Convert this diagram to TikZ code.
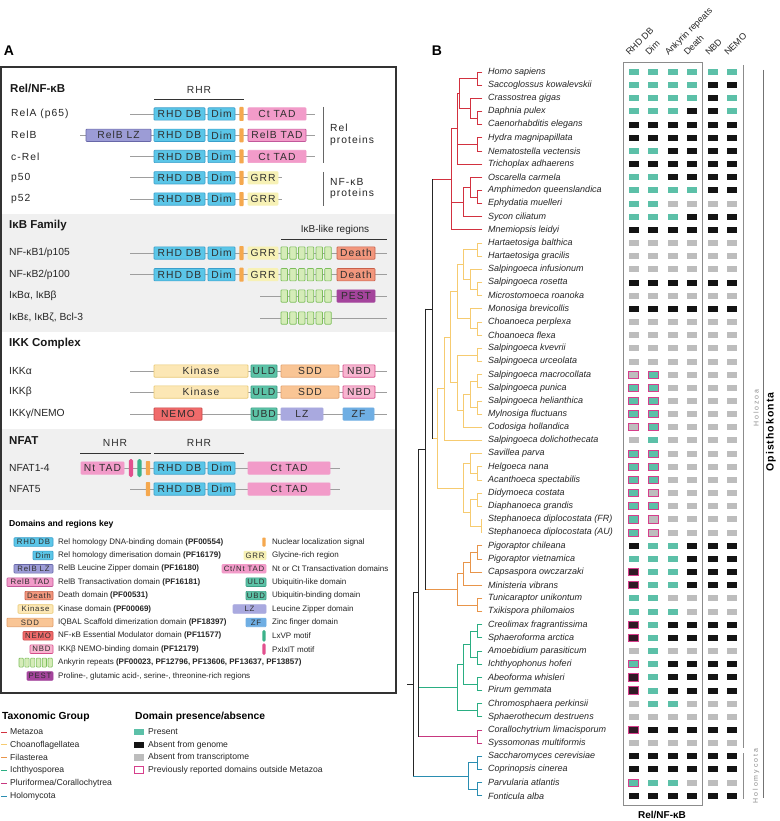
\documentclass[tikz,border=0pt]{standalone}
\usepackage{fontspec}
\setmainfont{Liberation Sans}
\newfontfamily\lsfont[LetterSpace=10]{Liberation Sans}
\newfontfamily\lswide[LetterSpace=28]{Liberation Sans}
\definecolor{rhdF}{HTML}{5BC6E8}\definecolor{rhdD}{HTML}{3A9FCB}
\definecolor{nlsF}{HTML}{F5A84E}
\definecolor{tadF}{HTML}{F29BC9}\definecolor{tadD}{HTML}{C2579A}
\definecolor{lzbF}{HTML}{9C9CD6}\definecolor{lzbD}{HTML}{6767A8}
\definecolor{grrF}{HTML}{F7F1B5}
\definecolor{ankF}{HTML}{D5ECB8}\definecolor{ankD}{HTML}{7DBE5C}
\definecolor{deaF}{HTML}{F2977D}\definecolor{deaD}{HTML}{C9604A}
\definecolor{pestF}{HTML}{A4449C}
\definecolor{kinF}{HTML}{FCE7B5}\definecolor{kinD}{HTML}{EAC872}
\definecolor{uldF}{HTML}{5CC3A7}\definecolor{uldD}{HTML}{3B9F85}
\definecolor{sddF}{HTML}{F9C595}\definecolor{sddD}{HTML}{E3A06B}
\definecolor{nbdF}{HTML}{F8B5D0}\definecolor{nbdD}{HTML}{D64C8A}
\definecolor{nemF}{HTML}{F06B6B}\definecolor{nemD}{HTML}{C94646}
\definecolor{lzF}{HTML}{A9A9DF}
\definecolor{zfF}{HTML}{6FAEE3}
\definecolor{lxvpF}{HTML}{3CB28A}
\definecolor{pxiF}{HTML}{E2508E}
\definecolor{presC}{HTML}{5CC0A8}
\definecolor{absB}{HTML}{141414}
\definecolor{absG}{HTML}{BDBDBD}
\definecolor{pinkO}{HTML}{D63F8C}
\definecolor{mzC}{HTML}{D2313F}
\definecolor{chC}{HTML}{F6CB70}
\definecolor{flC}{HTML}{E8954A}
\definecolor{icC}{HTML}{2AAE82}
\definecolor{pfC}{HTML}{C7377F}
\definecolor{hmC}{HTML}{2A8DB1}
\definecolor{bandG}{HTML}{F0F0F0}
\newcommand\pdom[5]{\draw[#4] (#1,#3-6.2) rectangle (#2,#3+6.2); \node[dt] at ({(#1+#2)/2},#3) {#5};}
\newcommand\pnls[2]{\fill[nlsF, rounded corners=0.8pt] (#1-2.2,#2-7) rectangle (#1+2.2,#2+7);}
\newcommand\pmot[3]{\fill[#3, rounded corners=1.8pt] (#1-2.2,#2-9) rectangle (#1+2.2,#2+9);}
\newcommand\pank[2]{\foreach \k in {0,...,5}{\draw[sANK] ({#1+\k*8.75},#2-6.2) rectangle ({#1+\k*8.75+6.5},#2+6.2);}}
\newcommand\pbb[3]{\draw[bb] (#1,#3) -- (#2,#3);}
\newcommand\kdom[5]{\draw[#4] (#1,#3-4.3) rectangle (#2,#3+4.3); \node[kt] at ({(#1+#2)/2},#3) {#5};}
\newcommand\cherry[4]{\draw[#4] (482,{72+(#2-1)*13.16}) -| (#1,{72+(#3-1)*13.16}) -- (482,{72+(#3-1)*13.16});}
\newcommand\mxP[2]{\fill[presC] (#1-5,#2-3) rectangle (#1+5,#2+3);}
\newcommand\mxB[2]{\fill[absB] (#1-5,#2-3) rectangle (#1+5,#2+3);}
\newcommand\mxG[2]{\fill[absG] (#1-5,#2-3) rectangle (#1+5,#2+3);}
\newcommand\mxp[2]{\draw[pinkO, line width=0.9pt, fill=presC] (#1-5,#2-3.6) rectangle (#1+5,#2+3.6);}
\newcommand\mxb[2]{\draw[pinkO, line width=0.9pt, fill=absB!85!pinkO] (#1-5,#2-3.6) rectangle (#1+5,#2+3.6);}
\newcommand\mxg[2]{\draw[pinkO, line width=0.9pt, fill=absG] (#1-5,#2-3.6) rectangle (#1+5,#2+3.6);}
\newcommand\mrow[7]{\pgfmathsetmacro\ry{72+(#1-1)*13.16}%
 \csname mx#2\endcsname{633.8}{\ry}\csname mx#3\endcsname{653.3}{\ry}%
 \csname mx#4\endcsname{672.7}{\ry}\csname mx#5\endcsname{691.7}{\ry}%
 \csname mx#6\endcsname{713.3}{\ry}\csname mx#7\endcsname{732.3}{\ry}}
\begin{document}
\begin{tikzpicture}[x=1pt,y=-1pt,
 bb/.style={draw=black!38, line width=0.8pt},
 dt/.style={font=\lsfont\fontsize{10.3}{12}\selectfont, text=black!82, inner sep=0},
 kt/.style={font=\lsfont\fontsize{7.8}{9}\selectfont, text=black!82, inner sep=0},
 kl/.style={anchor=west, font=\fontsize{8}{9}\selectfont, text=black!85, inner sep=0},
 lab/.style={anchor=west, font=\fontsize{10.3}{12}\selectfont, text=black!85, inner sep=0},
 labs/.style={anchor=west, font=\lsfont\fontsize{10.3}{12}\selectfont, text=black!85, inner sep=0},
 ttl/.style={anchor=west, font=\bfseries\fontsize{11.5}{13}\selectfont, text=black!90, inner sep=0},
 sRHD/.style={fill=rhdF, draw=rhdD, line width=0.6pt, rounded corners=0.8pt},
 sTAD/.style={fill=tadF, draw=tadF, line width=0.6pt, rounded corners=0.8pt},
 sRTAD/.style={fill=tadF, draw=tadD, line width=0.6pt, rounded corners=0.8pt},
 sLZB/.style={fill=lzbF, draw=lzbD, line width=0.6pt, rounded corners=0.8pt},
 sGRR/.style={fill=grrF, draw=grrF, line width=0.6pt, rounded corners=0.8pt},
 sANK/.style={fill=ankF, draw=ankD, line width=0.6pt, rounded corners=0.8pt},
 sDEA/.style={fill=deaF, draw=deaD, line width=0.6pt, rounded corners=0.8pt},
 sPEST/.style={fill=pestF, draw=pestF, line width=0.6pt, rounded corners=0.8pt},
 sKIN/.style={fill=kinF, draw=kinD, line width=0.6pt, rounded corners=0.8pt},
 sULD/.style={fill=uldF, draw=uldD, line width=0.6pt, rounded corners=0.8pt},
 sSDD/.style={fill=sddF, draw=sddD, line width=0.6pt, rounded corners=0.8pt},
 sNBD/.style={fill=nbdF, draw=nbdD, line width=0.6pt, rounded corners=0.8pt},
 sNEM/.style={fill=nemF, draw=nemD, line width=0.6pt, rounded corners=0.8pt},
 sLZ/.style={fill=lzF, draw=lzF, line width=0.6pt, rounded corners=0.8pt},
 sZF/.style={fill=zfF, draw=zfF, line width=0.6pt, rounded corners=0.8pt},
 tr/.style={line width=0.85pt, line cap=rect},
 spn/.style={anchor=west, font=\itshape\fontsize{9}{10}\selectfont, text=black!85, inner sep=0},
 colh/.style={anchor=base west, rotate=45, font=\fontsize{9}{10}\selectfont, text=black!85, inner sep=0},
 brk/.style={draw=black!45, line width=0.8pt}
]
\useasboundingbox (0,0) rectangle (779,821);
\fill[white] (0,0) rectangle (779,821);
% ---------------- Panel A ----------------
\node[font=\bfseries\fontsize{14}{14}\selectfont, inner sep=0] (lA) at (9,51) {A};
\fill[bandG] (1,214) rectangle (396,332);
\fill[bandG] (1,429) rectangle (396,510);
\draw[black!80, line width=1.1pt] (1,67) rectangle (396,693);
% Rel/NF-kB
\node[ttl] (t1) at (10,88) {Rel/NF-κB};
\node[dt] (rhr1) at (199,90) {RHR};
\draw[black!80, line width=0.7pt] (154,99) -- (244,99);
\node[labs] at (11,114) {RelA (p65)};
\node[labs] at (11,135.3) {RelB};
\node[labs] at (11,156.5) {c-Rel};
\node[labs] at (11,177.8) {p50};
\node[labs] at (11,199) {p52};
\foreach \yy in {114,156.5}{\pbb{130}{315}{\yy}\pdom{154}{205}{\yy}{sRHD}{RHD DB}\pdom{208}{235}{\yy}{sRHD}{Dim}\pnls{241.5}{\yy}\pdom{248}{306}{\yy}{sTAD}{Ct TAD}}
\pbb{80}{315}{135.3}\pdom{86}{151}{135.3}{sLZB}{RelB LZ}\pdom{154}{205}{135.3}{sRHD}{RHD DB}\pdom{208}{235}{135.3}{sRHD}{Dim}\pnls{241.5}{135.3}\pdom{248}{306}{135.3}{sRTAD}{RelB TAD}
\foreach \yy in {177.8,199}{\pbb{130}{282}{\yy}\pdom{154}{205}{\yy}{sRHD}{RHD DB}\pdom{208}{235}{\yy}{sRHD}{Dim}\pnls{241.5}{\yy}\pdom{248}{278}{\yy}{sGRR}{GRR}}
\draw[black!60, line width=0.7pt] (323,107) -- (323,163);
\node[labs] at (330,128) {Rel};
\node[labs] at (330,141) {proteins};
\draw[black!60, line width=0.7pt] (323,172) -- (323,206);
\node[labs] at (330,182) {NF-κB};
\node[labs] at (330,194) {proteins};
% IkB family
\node[ttl] (t2) at (9,226) {IκB Family};
\node[font=\fontsize{10}{12}\selectfont, text=black!85, inner sep=0] (ikl) at (335,230) {IκB-like regions};
\draw[black!80, line width=0.7pt] (281,239) -- (387,239);
\node[lab] at (9,253) {NF-κB1/p105};
\node[lab] at (9,274.7) {NF-κB2/p100};
\node[lab] at (9,296) {IκBα, IκBβ};
\node[lab] at (9,318) {IκBε, IκBζ, Bcl-3};
\foreach \yy in {253,274.7}{\pbb{130}{387}{\yy}\pdom{154}{205}{\yy}{sRHD}{RHD DB}\pdom{208}{235}{\yy}{sRHD}{Dim}\pnls{241.5}{\yy}\pdom{248}{278}{\yy}{sGRR}{GRR}\pank{281}{\yy}\pdom{337}{375}{\yy}{sDEA}{Death}}
\pbb{260}{387}{296}\pank{281}{296}\pdom{337}{375}{296}{sPEST}{PEST}
\pbb{260}{387}{318}\pank{281}{318}
% IKK complex
\node[ttl] (t3) at (9,344) {IKK Complex};
\node[lab] at (9,371) {IKKα};
\node[lab] at (9,392) {IKKβ};
\node[lab] at (9,414) {IKKγ/NEMO};
\foreach \yy in {371,392}{\pbb{130}{387}{\yy}\pdom{154}{248}{\yy}{sKIN}{Kinase}\pdom{251}{277}{\yy}{sULD}{ULD}\pdom{281}{339}{\yy}{sSDD}{SDD}\pdom{343}{375}{\yy}{sNBD}{NBD}}
\pbb{130}{387}{414}\pdom{154}{202}{414}{sNEM}{NEMO}\pdom{251}{277}{414}{sULD}{UBD}\pdom{281}{323}{414}{sLZ}{LZ}\pdom{343}{374}{414}{sZF}{ZF}
% NFAT
\node[ttl] (t4) at (9,441) {NFAT};
\node[dt] (nhr) at (115,443) {NHR};
\draw[black!80, line width=0.7pt] (80,453) -- (151,453);
\node[dt] (rhr2) at (199,443) {RHR};
\draw[black!80, line width=0.7pt] (154,453) -- (244,453);
\node[lab] at (9,468) {NFAT1-4};
\node[lab] at (9,489) {NFAT5};
\pbb{81}{340}{468}\pdom{81}{124}{468}{sTAD}{Nt TAD}\pmot{131}{468}{pxiF}\pmot{139.5}{468}{lxvpF}\pnls{148}{468}
\pdom{154}{205}{468}{sRHD}{RHD DB}\pdom{208}{235}{468}{sRHD}{Dim}\pdom{248}{330}{468}{sTAD}{Ct TAD}
\pbb{130}{340}{489}\pnls{148}{489}\pdom{154}{205}{489}{sRHD}{RHD DB}\pdom{208}{235}{489}{sRHD}{Dim}\pdom{248}{330}{489}{sTAD}{Ct TAD}
% Key
\node[anchor=west, font=\bfseries\fontsize{8.6}{10}\selectfont, inner sep=0] (kt0) at (9,524) {Domains and regions key};
\kdom{14}{53}{542}{sRHD}{RHD DB}\node[kl] at (58,542) {Rel homology DNA-binding domain \textbf{(PF00554)}};
\kdom{33}{53}{555.4}{sRHD}{Dim}\node[kl] at (58,555.4) {Rel homology dimerisation domain \textbf{(PF16179)}};
\kdom{14}{53}{568.8}{sLZB}{RelB LZ}\node[kl] at (58,568.8) {RelB Leucine Zipper domain \textbf{(PF16180)}};
\kdom{7}{53}{582.2}{sRTAD}{RelB TAD}\node[kl] at (58,582.2) {RelB Transactivation domain \textbf{(PF16181)}};
\kdom{25}{53}{595.6}{sDEA}{Death}\node[kl] at (58,595.6) {Death domain \textbf{(PF00531)}};
\kdom{18}{53}{609}{sKIN}{Kinase}\node[kl] at (58,609) {Kinase domain \textbf{(PF00069)}};
\kdom{7}{53}{622.4}{sSDD}{SDD}\node[kl] at (58,622.4) {IQBAL Scaffold dimerization domain \textbf{(PF18397)}};
\kdom{23}{53}{635.8}{sNEM}{NEMO}\node[kl] at (58,635.8) {NF-κB Essential Modulator domain \textbf{(PF11577)}};
\kdom{30}{53}{649.2}{sNBD}{NBD}\node[kl] at (58,649.2) {IKKβ NEMO-binding domain \textbf{(PF12179)}};
\foreach \k in {0,...,5}{\draw[sANK] ({19+\k*5.8},658.1) rectangle ({19+\k*5.8+4.3},667.1);}
\node[kl] at (58,662.6) {Ankyrin repeats \textbf{(PF00023, PF12796, PF13606, PF13637, PF13857)}};
\kdom{27}{53}{676}{sPEST}{PEST}\node[kl] at (58,676) {Proline-, glutamic acid-, serine-, threonine-rich regions};
\fill[nlsF, rounded corners=0.8pt] (262.3,537.5) rectangle (265.7,546.5);\node[kl] at (272,542) {Nuclear localization signal};
\kdom{244}{266}{555.4}{sGRR}{GRR}\node[kl] at (272,555.4) {Glycine-rich region};
\kdom{222}{266}{568.8}{sTAD}{Ct/Nt TAD}\node[kl] at (272,568.8) {Nt or Ct Transactivation domains};
\kdom{246}{266}{582.2}{sULD}{ULD}\node[kl] at (272,582.2) {Ubiquitin-like domain};
\kdom{246}{266}{595.6}{sULD}{UBD}\node[kl] at (272,595.6) {Ubiquitin-binding domain};
\kdom{233}{266}{609}{sLZ}{LZ}\node[kl] at (272,609) {Leucine Zipper domain};
\kdom{246}{266}{622.4}{sZF}{ZF}\node[kl] at (272,622.4) {Zinc finger domain};
\fill[lxvpF, rounded corners=1.5pt] (262.3,630) rectangle (265.7,641.6);\node[kl] at (272,635.8) {LxVP motif};
\fill[pxiF, rounded corners=1.5pt] (262.3,643.4) rectangle (265.7,655);\node[kl] at (272,649.2) {PxIxIT motif};
% Bottom legend
\node[anchor=west, font=\bfseries\fontsize{10.3}{12}\selectfont, inner sep=0] (lg1) at (2,717) {Taxonomic Group};
\node[anchor=west, font=\bfseries\fontsize{10.3}{12}\selectfont, inner sep=0] (lg2) at (135,717) {Domain presence/absence};
\foreach \c/\t [count=\i from 0] in {mzC/Metazoa, chC/Choanoflagellatea, flC/Filasterea, icC/Ichthyosporea, pfC/Pluriformea\slash Corallochytrea, hmC/Holomycota}{
 \draw[\c, line width=1pt] (1,{732+\i*12.8}) -- (7,{732+\i*12.8});
 \node[anchor=west, font=\fontsize{8.6}{10}\selectfont, text=black!85, inner sep=0] at (10,{732+\i*12.8}) {\t};}
\fill[presC] (134,728.8) rectangle (144,735.2);
\node[anchor=west, font=\fontsize{8.6}{10}\selectfont, text=black!85, inner sep=0] at (148,732) {Present};
\fill[absB] (134,741.6) rectangle (144,748);
\node[anchor=west, font=\fontsize{8.6}{10}\selectfont, text=black!85, inner sep=0] at (148,744.8) {Absent from genome};
\fill[absG] (134,754.4) rectangle (144,760.8);
\node[anchor=west, font=\fontsize{8.6}{10}\selectfont, text=black!85, inner sep=0] at (148,757.6) {Absent from transcriptome};
\draw[pinkO, line width=0.9pt, fill=white] (134.5,766.9) rectangle (143.5,773.9);
\node[anchor=west, font=\fontsize{8.6}{10}\selectfont, text=black!85, inner sep=0] at (148,770.4) {Previously reported domains outside Metazoa};
% ---------------- Panel B ----------------
\node[font=\bfseries\fontsize{14}{14}\selectfont, inner sep=0] (lB) at (437,51) {B};
\node[colh] at (629.5,56) {RHD DB};
\node[colh] at (649,56) {Dim};
\node[colh] at (668.4,56) {Ankyrin repeats};
\node[colh] at (687.4,56) {Death};
\node[colh] at (709,56) {NBD};
\node[colh] at (728,56) {NEMO};
\draw[black!45, line width=0.8pt] (623,62) rectangle (702,805);
\draw[brk] (743,65) -- (743,748);
\draw[brk] (743,753) -- (743,799);
\draw[black!55, line width=1pt] (763,70) -- (763,798);
\node[rotate=90, font=\lswide\fontsize{7}{8}\selectfont, text=black!45, inner sep=0] (hz) at (756,408) {Holozoa};
\node[rotate=90, font=\lswide\fontsize{7}{8}\selectfont, text=black!45, inner sep=0] (hm) at (756,776) {Holomycota};
\node[rotate=90, font=\lsfont\bfseries\fontsize{10.5}{12}\selectfont, inner sep=0] (op) at (771,432) {Opisthokonta};
\node[font=\bfseries\fontsize{10}{12}\selectfont, inner sep=0] (rn) at (662,815) {Rel/NF-κB};
% species
\foreach \i/\nm in {1/Homo sapiens,2/Saccoglossus kowalevskii,3/Crassostrea gigas,4/Daphnia pulex,5/Caenorhabditis elegans,6/Hydra magnipapillata,7/Nematostella vectensis,8/Trichoplax adhaerens,9/Oscarella carmela,10/Amphimedon queenslandica,11/Ephydatia muelleri,12/Sycon ciliatum,13/Mnemiopsis leidyi,14/Hartaetosiga balthica,15/Hartaetosiga gracilis,16/Salpingoeca infusionum,17/Salpingoeca rosetta,18/Microstomoeca roanoka,19/Monosiga brevicollis,20/Choanoeca perplexa,21/Choanoeca flexa,22/Salpingoeca kvevrii,23/Salpingoeca urceolata,24/Salpingoeca macrocollata,25/Salpingoeca punica,26/Salpingoeca helianthica,27/Mylnosiga fluctuans,28/Codosiga hollandica,29/Salpingoeca dolichothecata,30/Savillea parva,31/Helgoeca nana,32/Acanthoeca spectabilis,33/Didymoeca costata,34/Diaphanoeca grandis,35/Stephanoeca diplocostata (FR),36/Stephanoeca diplocostata (AU),37/Pigoraptor chileana,38/Pigoraptor vietnamica,39/Capsaspora owczarzaki,40/Ministeria vibrans,41/Tunicaraptor unikontum,42/Txikispora philomaios,43/Creolimax fragrantissima,44/Sphaeroforma arctica,45/Amoebidium parasiticum,46/Ichthyophonus hoferi,47/Abeoforma whisleri,48/Pirum gemmata,49/Chromosphaera perkinsii,50/Sphaerothecum destruens,51/Corallochytrium limacisporum,52/Syssomonas multiformis,53/Saccharomyces cerevisiae,54/Coprinopsis cinerea,55/Parvularia atlantis,56/Fonticula alba}{
 \node[spn] (s\i) at (488,{72+(\i-1)*13.16}) {\nm};}
% matrix
\mrow{1}{P}{P}{P}{P}{P}{P}\mrow{2}{P}{P}{P}{P}{B}{B}\mrow{3}{P}{P}{P}{P}{B}{P}\mrow{4}{P}{P}{P}{B}{B}{P}
\mrow{5}{B}{B}{B}{B}{B}{B}\mrow{6}{B}{B}{B}{B}{B}{B}\mrow{7}{P}{P}{B}{B}{B}{B}\mrow{8}{B}{B}{B}{B}{B}{B}
\mrow{9}{P}{P}{B}{B}{B}{B}\mrow{10}{P}{P}{P}{P}{B}{B}\mrow{11}{P}{P}{G}{G}{G}{G}\mrow{12}{P}{P}{P}{B}{B}{B}
\mrow{13}{B}{B}{B}{B}{B}{B}\mrow{14}{G}{G}{G}{G}{G}{G}\mrow{15}{G}{G}{G}{G}{G}{G}\mrow{16}{G}{G}{G}{G}{G}{G}
\mrow{17}{B}{B}{B}{B}{B}{B}\mrow{18}{G}{G}{G}{G}{G}{G}\mrow{19}{B}{B}{B}{B}{B}{B}\mrow{20}{G}{G}{G}{G}{G}{G}
\mrow{21}{G}{G}{G}{G}{G}{G}\mrow{22}{G}{G}{G}{G}{G}{G}\mrow{23}{G}{G}{G}{G}{G}{G}\mrow{24}{g}{p}{G}{G}{G}{G}
\mrow{25}{p}{p}{G}{G}{G}{G}\mrow{26}{p}{p}{G}{G}{G}{G}\mrow{27}{p}{p}{G}{G}{G}{G}\mrow{28}{g}{p}{G}{G}{G}{G}
\mrow{29}{G}{P}{G}{G}{G}{G}\mrow{30}{p}{p}{G}{G}{G}{G}\mrow{31}{p}{p}{G}{G}{G}{G}\mrow{32}{p}{p}{G}{G}{G}{G}
\mrow{33}{p}{g}{G}{G}{G}{G}\mrow{34}{p}{p}{G}{G}{G}{G}\mrow{35}{p}{g}{G}{G}{G}{G}\mrow{36}{p}{g}{G}{G}{G}{G}
\mrow{37}{B}{P}{P}{B}{B}{B}\mrow{38}{P}{P}{P}{B}{B}{B}\mrow{39}{b}{P}{P}{B}{B}{B}\mrow{40}{b}{P}{P}{B}{B}{B}
\mrow{41}{P}{P}{G}{G}{G}{G}\mrow{42}{P}{P}{P}{G}{G}{G}\mrow{43}{b}{P}{B}{B}{B}{B}\mrow{44}{b}{P}{B}{B}{B}{B}
\mrow{45}{G}{P}{G}{G}{G}{G}\mrow{46}{p}{P}{B}{B}{B}{B}\mrow{47}{b}{P}{B}{B}{B}{B}\mrow{48}{b}{P}{B}{B}{B}{B}
\mrow{49}{G}{P}{P}{G}{G}{G}\mrow{50}{G}{G}{G}{G}{G}{G}\mrow{51}{b}{B}{B}{B}{B}{B}\mrow{52}{G}{G}{G}{G}{G}{G}
\mrow{53}{B}{B}{B}{B}{B}{B}\mrow{54}{B}{B}{B}{B}{B}{B}\mrow{55}{p}{P}{P}{G}{G}{G}\mrow{56}{B}{B}{B}{B}{B}{B}
% tree: Metazoa
\begin{scope}[tr, mzC]
\cherry{477}{1}{2}{mzC}\cherry{477}{4}{5}{mzC}
\draw (482,98.32) -| (470,118.06) -- (477,118.06);
\draw (477,78.58) -| (459,108.19) -- (470,108.19);
\cherry{477}{6}{7}{mzC}
\draw (459,93.39) -| (457,164.12) -- (482,164.12);
\draw (457,144.38) -- (477,144.38);
\cherry{477}{10}{11}{mzC}
\draw (482,177.28) -| (470,197.02) -- (477,197.02);
\draw (470,187.15) -| (463,216.76) -- (482,216.76);
\draw (457,128.76) -| (451,229.92) -- (482,229.92);
\draw (451,201.96) -- (463,201.96);
\draw (432,179.34) -- (451,179.34);
\end{scope}
% Choanoflagellatea
\begin{scope}[tr, chC]
\cherry{477}{14}{15}{chC}\cherry{477}{17}{18}{chC}
\draw (482,269.40) -| (470,289.14) -- (477,289.14);
\draw (477,249.66) -| (463,279.27) -- (470,279.27);
\cherry{477}{20}{21}{chC}
\draw (482,308.88) -| (470,328.62) -- (477,328.62);
\draw (463,264.47) -| (457,318.75) -- (470,318.75);
\cherry{477}{22}{23}{chC}\cherry{477}{24}{25}{chC}\cherry{477}{26}{27}{chC}
\draw (477,381.26) -| (470,407.58) -- (477,407.58);
\draw (470,394.42) -| (463,427.32) -- (482,427.32);
\draw (477,354.94) -| (457,410.87) -- (463,410.87);
\draw (457,291.61) -| (450,382.90) -- (457,382.90);
\draw (450,337.26) -| (444,440.48) -- (482,440.48);
\cherry{477}{31}{32}{chC}
\draw (482,453.64) -| (470,473.38) -- (477,473.38);
\cherry{477}{33}{34}{chC}
\draw (482,519.44) -| (481,532.60) -- (482,532.60);
\draw (477,499.70) -| (470,526.02) -- (481,526.02);
\draw (470,463.51) -| (463,512.86) -- (470,512.86);
\draw (444,388.87) -| (437,488.18) -- (463,488.18);
\draw (432,438.53) -- (437,438.53);
\end{scope}
% Filasterea
\begin{scope}[tr, flC]
\cherry{477}{37}{38}{flC}
\draw (477,552.34) -| (470,572.08) -- (482,572.08);
\draw (470,562.21) -| (463,585.24) -- (482,585.24);
\cherry{477}{41}{42}{flC}
\draw (463,573.73) -| (457,604.98) -- (477,604.98);
\draw (425,589.36) -- (457,589.36);
\end{scope}
% Ichthyosporea
\begin{scope}[tr, icC]
\cherry{477}{43}{44}{icC}\cherry{477}{45}{46}{icC}
\draw (477,631.30) -| (470,657.62) -- (477,657.62);
\cherry{477}{47}{48}{icC}
\draw (470,644.46) -| (463,683.94) -- (477,683.94);
\cherry{477}{49}{50}{icC}
\draw (463,664.20) -| (457,710.26) -- (477,710.26);
\draw (418,687.23) -- (457,687.23);
\end{scope}
% Pluriformea
\begin{scope}[tr, pfC]
\cherry{477}{51}{52}{pfC}
\draw (418,736.58) -- (477,736.58);
\end{scope}
% Holomycota
\begin{scope}[tr, hmC]
\cherry{477}{53}{54}{hmC}\cherry{477}{55}{56}{hmC}
\draw (477,762.90) -| (468,789.22) -- (477,789.22);
\draw (413,776.06) -- (468,776.06);
\end{scope}
% backbone
\begin{scope}[tr, black!85]
\draw (432,179.34) -- (432,438.53);
\draw (425,308.94) -- (432,308.94);
\draw (425,308.94) -- (425,589.36);
\draw (418,449.15) -- (425,449.15);
\draw (418,449.15) -- (418,736.58);
\draw (413,592.87) -- (418,592.87);
\draw (413,592.87) -- (413,776.06);
\draw (407,684.47) -- (413,684.47);
\end{scope}
\end{tikzpicture}
\end{document}
